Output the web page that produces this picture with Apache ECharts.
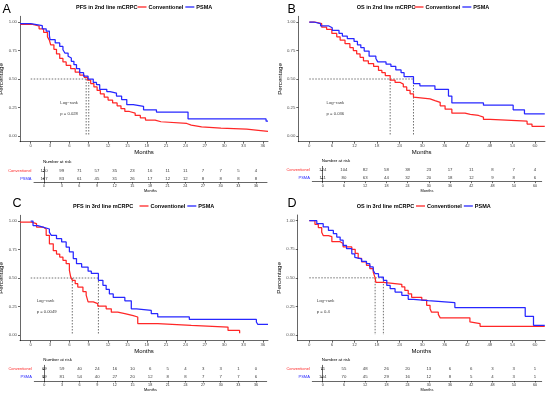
<!DOCTYPE html>
<html><head><meta charset="utf-8">
<script src="https://cdn.jsdelivr.net/npm/echarts@6/dist/echarts.min.js"></script>
<style>html,body{margin:0;padding:0;background:#fff}#c{width:550px;height:394px}</style>
</head><body><div id="c"></div>
<script>
// ---------------- DATA ----------------
const panelLetters = ['A', 'B', 'C', 'D'];
const panelTitles = ['PFS in 2nd line mCRPC', 'OS in 2nd line mCRPC', 'PFS in 3rd line mCRPC', 'OS in 3rd line mCRPC'];
const seriesNames = ['Conventionel', 'PSMA'];
const ticks36 = [0, 3, 6, 9, 12, 15, 18, 21, 24, 27, 30, 33, 36];
const ticks60 = [0, 6, 12, 18, 24, 30, 36, 42, 48, 54, 60];
const yTicks = [0, 0.25, 0.5, 0.75, 1];
const pTexts = ['p = 0.028', 'p = 0.036', 'p = 0.0049', 'p = 0.4'];
const logRankText = 'Log\u2212rank';

// Kaplan-Meier curves [time, survival]
const aConv = [[-1.66,0.98],[0.3,0.965],[1.3,0.94],[2.0,0.91],[2.6,0.87],[2.9,0.84],[3.1,0.80],[3.6,0.76],[4.0,0.72],[4.5,0.68],[5.0,0.65],[5.5,0.62],[6.2,0.59],[6.9,0.56],[7.6,0.535],[8.3,0.515],[8.8,0.49],[9.3,0.46],[9.8,0.43],[10.3,0.40],[10.8,0.37],[11.4,0.34],[12.0,0.315],[12.7,0.29],[13.4,0.265],[14.0,0.24],[14.6,0.215],[15.3,0.20],[16.2,0.18],[17.0,0.16],[17.8,0.14],[19.3,0.125],[20.2,0.11],[24.2,0.095],[24.9,0.08],[26.5,0.07],[29.5,0.06],[33.5,0.05],[35.3,0.04],[36.8,0.035]];
const aPsma = [[-1.66,0.985],[0,1.0],[0.08,0.968],[1.8,0.94],[2.4,0.92],[2.9,0.88],[3.0,0.845],[3.8,0.816],[4.5,0.786],[5.0,0.757],[5.3,0.728],[5.8,0.70],[6.0,0.684],[6.3,0.655],[6.7,0.626],[7.1,0.59],[7.6,0.555],[8.2,0.525],[8.9,0.50],[9.7,0.47],[10.2,0.45],[10.7,0.41],[11.8,0.39],[12.3,0.377],[13.3,0.35],[14.1,0.32],[14.9,0.275],[15.9,0.26],[17.5,0.23],[19.5,0.21],[24.4,0.15],[36.5,0.13],[36.8,0.13]];
const bConv = [[0,1.0],[1.5,0.985],[3.3,0.955],[4.6,0.936],[6.0,0.90],[7.3,0.87],[8.2,0.84],[9.5,0.81],[10.8,0.775],[11.7,0.75],[12.6,0.72],[13.5,0.69],[14.4,0.66],[15.7,0.635],[17.1,0.61],[18.4,0.575],[19.3,0.555],[20.2,0.53],[21.5,0.49],[22.8,0.47],[24.2,0.455],[25.0,0.43],[25.9,0.40],[26.8,0.37],[27.7,0.34],[28.1,0.325],[32.1,0.31],[33.4,0.295],[34.8,0.265],[36.1,0.235],[37.9,0.20],[41.4,0.19],[42.8,0.18],[45.0,0.165],[46.3,0.145],[48.1,0.13],[57.9,0.105],[59.2,0.085],[62.6,0.085]];
const bPsma = [[0,1.0],[1.2,0.985],[3.0,0.965],[5.2,0.95],[6.1,0.927],[7.9,0.90],[8.8,0.877],[10.1,0.855],[11.9,0.83],[12.8,0.80],[13.7,0.775],[14.6,0.745],[15.9,0.70],[17.7,0.68],[18.2,0.65],[20.4,0.63],[21.7,0.61],[23.0,0.58],[24.4,0.555],[25.2,0.52],[27.7,0.46],[29.4,0.44],[33.4,0.41],[37.0,0.35],[37.9,0.29],[46.3,0.27],[54.2,0.23],[57.2,0.195],[62.6,0.195]];
const cConv = [[-1.66,0.99],[0.1,0.977],[0.9,0.947],[1.9,0.93],[2.4,0.874],[2.9,0.80],[3.5,0.74],[4.0,0.71],[4.5,0.684],[5.0,0.655],[5.5,0.626],[6.0,0.567],[6.2,0.51],[6.45,0.48],[6.9,0.45],[7.3,0.42],[8.1,0.38],[8.6,0.35],[8.9,0.29],[9.7,0.275],[10.4,0.254],[11.7,0.23],[12.5,0.20],[13.5,0.187],[14.6,0.17],[15.9,0.158],[16.6,0.10],[19.7,0.085],[24.9,0.07],[30.6,0.04],[32.4,0.015]];
const cPsma = [[0,1.0],[0.36,0.96],[1.1,0.947],[1.9,0.93],[2.9,0.90],[3.2,0.874],[4.0,0.845],[4.8,0.816],[5.5,0.77],[6.0,0.73],[6.6,0.67],[7.1,0.626],[7.9,0.596],[8.9,0.56],[9.4,0.54],[10.5,0.48],[11.2,0.436],[11.7,0.40],[12.2,0.36],[12.8,0.33],[14.6,0.30],[15.6,0.23],[16.4,0.216],[18.7,0.187],[19.7,0.158],[24.6,0.137],[35.0,0.114],[35.2,0.094],[36.8,0.094]];
const dConv = [[0,1.0],[1.5,0.968],[2.4,0.94],[3.3,0.90],[3.7,0.87],[5.1,0.86],[6.0,0.816],[8.2,0.80],[9.0,0.77],[11.3,0.75],[12.2,0.714],[13.0,0.67],[13.9,0.64],[15.2,0.61],[16.1,0.58],[17.0,0.55],[17.5,0.50],[17.7,0.46],[19.7,0.455],[20.2,0.443],[24.6,0.42],[25.4,0.39],[26.3,0.36],[27.2,0.33],[29.9,0.305],[31.2,0.26],[32.1,0.23],[32.5,0.20],[34.3,0.18],[34.8,0.15],[42.7,0.114],[43.2,0.10],[45.4,0.076],[62.6,0.076]];
const dPsma = [[0,1.0],[2.0,0.974],[3.7,0.945],[5.1,0.915],[6.4,0.886],[7.3,0.857],[8.2,0.83],[9.0,0.784],[9.9,0.755],[11.3,0.71],[12.1,0.68],[12.6,0.667],[13.9,0.644],[15.2,0.624],[16.1,0.595],[17.0,0.566],[17.5,0.536],[18.4,0.507],[19.7,0.478],[20.6,0.434],[21.5,0.405],[22.8,0.376],[24.6,0.347],[26.3,0.312],[27.7,0.30],[31.6,0.283],[38.7,0.24],[57.4,0.163],[59.6,0.085],[62.6,0.085]];

// Median survival times (dotted reference lines)
const aMedians = [8.6, 9.0];
const bMedians = [21.5, 27.7];
const cMedians = [6.45, 10.5];
const dMedians = [17.5, 19.7];

// Number at risk
const aRiskConv = [120, 99, 71, 57, 35, 23, 16, 11, 11, 7, 7, 5, 4];
const aRiskPsma = [107, 83, 61, 45, 31, 26, 17, 12, 12, 8, 8, 8, 8];
const bRiskConv = [124, 104, 82, 58, 38, 23, 17, 11, 8, 7, 4];
const bRiskPsma = [111, 80, 63, 44, 32, 20, 18, 12, 9, 8, 6];
const cRiskConv = [69, 59, 40, 24, 16, 10, 6, 5, 4, 3, 3, 1, 0];
const cRiskPsma = [99, 81, 54, 40, 27, 20, 12, 8, 8, 7, 7, 7, 6];
const dRiskConv = [71, 55, 48, 26, 20, 13, 6, 6, 3, 3, 1];
const dRiskPsma = [104, 70, 45, 29, 16, 12, 8, 5, 4, 3, 1];

// ---------------- LAYOUT / STYLE ----------------
const RED = '#ff2727', BLUE = '#2727ff';
const FONT = 'Liberation Sans, Arial, sans-serif';
const panels = [
  { conv: aConv, psma: aPsma, med: aMedians, ticks: ticks36, rc: aRiskConv, rp: aRiskPsma, lr: [4.6, 0.29, 0.19],
    grid: { left: 20, top: 16.3, width: 248, height: 125.4 }, xr: [-1.66, 36.8],
    tgrid: { left: 34, top: 167, width: 233, height: 15.2 }, txr: [-1.70, 37.87],
    letter: { left: 2.5, top: 3 }, title: { left: 76, top: 4 }, legend: { left: 137.5, top: 4 } },
  { conv: bConv, psma: bPsma, med: bMedians, ticks: ticks60, rc: bRiskConv, rp: bRiskPsma, lr: [4.6, 0.29, 0.19],
    grid: { left: 298.3, top: 16.3, width: 246.7, height: 125.4 }, xr: [-2.92, 62.66],
    tgrid: { left: 312.3, top: 166.4, width: 229.4, height: 15.3 }, txr: [-2.94, 61.9],
    letter: { left: 287.5, top: 3 }, title: { left: 356.7, top: 4 }, legend: { left: 414.5, top: 4 } },
  { conv: cConv, psma: cPsma, med: cMedians, ticks: ticks36, rc: cRiskConv, rp: cRiskPsma, lr: [0.93, 0.30, 0.20],
    grid: { left: 20, top: 215.3, width: 248, height: 125.4 }, xr: [-1.66, 36.8],
    tgrid: { left: 34.3, top: 365.3, width: 232.4, height: 15.7 }, txr: [-1.70, 37.82],
    letter: { left: 12.5, top: 197 }, title: { left: 73, top: 203 }, legend: { left: 139.5, top: 203 } },
  { conv: dConv, psma: dPsma, med: dMedians, ticks: ticks60, rc: dRiskConv, rp: dRiskPsma, lr: [2.0, 0.30, 0.20],
    grid: { left: 297.7, top: 215.0, width: 247.3, height: 125.7 }, xr: [-3.08, 62.66],
    tgrid: { left: 312.3, top: 365.3, width: 229.4, height: 15.7 }, txr: [-2.94, 61.9],
    letter: { left: 287.5, top: 197 }, title: { left: 356.7, top: 203 }, legend: { left: 416, top: 203 } }
];

const grid = [], xAxis = [], yAxis = [], series = [], title = [], legend = [];
const axisLineStyle = { color: '#000', width: 0.6 };

panels.forEach((p, i) => {
  const gi = i * 2, ti = i * 2 + 1;
  grid.push(Object.assign({ outerBoundsMode: 'none', containLabel: false }, p.grid));
  grid.push(Object.assign({ outerBoundsMode: 'none', containLabel: false }, p.tgrid));

  // main plot axes
  xAxis.push({
    gridIndex: gi, type: 'value', min: p.xr[0], max: p.xr[1],
    axisLine: { show: true, onZero: false, lineStyle: axisLineStyle },
    axisTick: { show: true, length: 2, lineStyle: axisLineStyle, customValues: p.ticks },
    axisLabel: { fontSize: 4.3, color: '#4d4d4d', margin: 2.5, fontFamily: FONT, customValues: p.ticks },
    splitLine: { show: false },
    name: 'Months', nameLocation: 'middle', nameGap: 5,
    nameTextStyle: { fontSize: 6, color: '#000', fontFamily: FONT }
  });
  yAxis.push({
    gridIndex: gi, type: 'value', min: -0.05, max: 1.05,
    axisLine: { show: true, onZero: false, lineStyle: axisLineStyle },
    axisTick: { show: true, length: 2, lineStyle: axisLineStyle, customValues: yTicks },
    axisLabel: { fontSize: 4.3, color: '#4d4d4d', margin: 3, fontFamily: FONT, customValues: yTicks,
      formatter: v => Number(v).toFixed(2) },
    splitLine: { show: false },
    name: 'Percentage', nameLocation: 'middle', nameGap: 11,
    nameTextStyle: { fontSize: 6.2, color: '#000', fontFamily: FONT }
  });

  // risk table axes
  xAxis.push({
    gridIndex: ti, type: 'value', min: p.txr[0], max: p.txr[1],
    axisLine: { show: true, onZero: false, lineStyle: axisLineStyle },
    axisTick: { show: true, length: 1.5, lineStyle: axisLineStyle, customValues: p.ticks },
    axisLabel: { fontSize: 3.7, color: '#333', margin: 2, fontFamily: FONT, customValues: p.ticks },
    splitLine: { show: false },
    name: 'Months', nameLocation: 'middle', nameGap: 6.5,
    nameTextStyle: { fontSize: 3.9, color: '#000', fontFamily: FONT }
  });
  yAxis.push({
    gridIndex: ti, type: 'category', data: ['PSMA', 'Conventionel'],
    axisLine: { show: true, lineStyle: axisLineStyle },
    axisTick: { show: true, alignWithLabel: true, length: 1.5, lineStyle: axisLineStyle },
    axisLabel: { fontSize: 4, margin: 2.5, fontFamily: FONT, color: (v) => v === 'PSMA' ? BLUE : RED },
    splitLine: { show: false },
    name: 'Number at risk', nameLocation: 'end', nameGap: 3.5,
    nameTextStyle: { fontSize: 4.4, color: '#000', fontFamily: FONT, align: 'left', padding: [0, 0, 0, -1] }
  });

  // KM curves
  series.push({ name: seriesNames[0], type: 'line', step: 'end', xAxisIndex: gi, yAxisIndex: gi,
    showSymbol: false, symbol: 'none', data: p.conv, lineStyle: { color: RED, width: 1.25 }, itemStyle: { color: RED }, z: 3 });
  series.push({ name: seriesNames[1], type: 'line', step: 'end', xAxisIndex: gi, yAxisIndex: gi,
    showSymbol: false, symbol: 'none', data: p.psma, lineStyle: { color: BLUE, width: 1.25 }, itemStyle: { color: BLUE }, z: 3 });

  // median reference lines
  const dash = { color: '#333', width: 0.7, type: [1.5, 1.5] };
  const maxMed = Math.max(...p.med);
  series.push({ name: 'median', type: 'line', xAxisIndex: gi, yAxisIndex: gi, symbol: 'none',
    data: [[0, 0.5], [maxMed, 0.5]], lineStyle: dash, z: 2, silent: true });
  p.med.forEach(m => {
    series.push({ name: 'median', type: 'line', xAxisIndex: gi, yAxisIndex: gi, symbol: 'none',
      data: [[m, 0.5], [m, 0]], lineStyle: dash, z: 2, silent: true });
  });

  // log-rank text
  series.push({ name: 'logrank', type: 'scatter', xAxisIndex: gi, yAxisIndex: gi, symbolSize: 1,
    itemStyle: { color: 'rgba(0,0,0,0)' }, silent: true,
    data: [[p.lr[0], p.lr[1], logRankText], [p.lr[0], p.lr[2], pTexts[i]]],
    label: { show: true, position: 'inside', align: 'left', fontSize: 4.2, color: '#000', fontFamily: FONT,
      formatter: q => q.value[2] } });

  // risk numbers
  const riskData = [];
  p.ticks.forEach((t, k) => {
    riskData.push([t, 'Conventionel', p.rc[k]]);
    riskData.push([t, 'PSMA', p.rp[k]]);
  });
  series.push({ name: 'risk', type: 'scatter', xAxisIndex: ti, yAxisIndex: ti, symbolSize: 1,
    itemStyle: { color: 'rgba(0,0,0,0)' }, silent: true, data: riskData,
    label: { show: true, position: 'inside', fontSize: 4.3, color: '#000', fontFamily: FONT,
      formatter: q => String(q.value[2]) } });

  // panel letter and title
  title.push({ text: panelLetters[i], left: p.letter.left, top: p.letter.top, padding: 0,
    textStyle: { fontSize: 12.5, fontWeight: 'normal', color: '#000', fontFamily: FONT } });
  title.push({ text: panelTitles[i], left: p.title.left, top: p.title.top, padding: 0,
    textStyle: { fontSize: 5.5, fontWeight: 'bold', color: '#000', fontFamily: FONT } });
  legend.push({ data: seriesNames, left: p.legend.left, top: p.legend.top, padding: 0,
    icon: 'rect', itemWidth: 9, itemHeight: 1.3, itemGap: 2, selectedMode: false,
    textStyle: { fontSize: 5.5, fontWeight: 'bold', color: '#000', fontFamily: FONT, padding: [0, 0, 0, -3] } });
});

const chart = echarts.init(document.getElementById('c'), null, { renderer: 'canvas' });
chart.setOption({
  animation: false,
  backgroundColor: '#fff',
  title, legend, grid, xAxis, yAxis, series
});
</script>
</body></html>
